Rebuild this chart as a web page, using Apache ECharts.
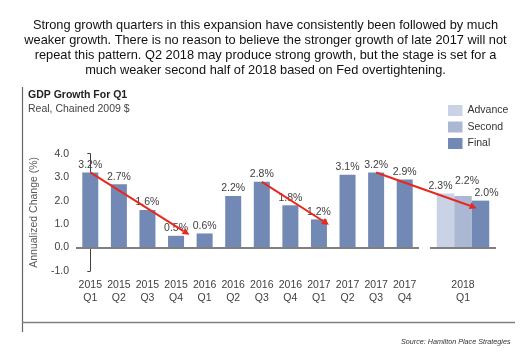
<!DOCTYPE html>
<html>
<head>
<meta charset="utf-8">
<script src="https://cdn.jsdelivr.net/npm/echarts@6/dist/echarts.min.js"></script>
<style>
html,body{margin:0;padding:0;background:#fff;}
#c{width:531px;height:355px;}
</style>
</head>
<body>
<div id="c"></div>
<script>
// ---- data ----
const categories = ['2015\nQ1','2015\nQ2','2015\nQ3','2015\nQ4','2016\nQ1','2016\nQ2','2016\nQ3','2016\nQ4','2017\nQ1','2017\nQ2','2017\nQ3','2017\nQ4'];
const finalValues = [3.2, 2.7, 1.6, 0.5, 0.6, 2.2, 2.8, 1.8, 1.2, 3.1, 3.2, 2.9];
const category2018 = ['2018\nQ1'];
const advance2018 = [2.3];
const second2018 = [2.2];
const final2018 = [2.0];
const legendNames = ['Advance', 'Second', 'Final'];
const yTicks = { min: -1, max: 4, interval: 1 };
const headline = 'Strong growth quarters in this expansion have consistently been followed by much\nweaker growth. There is no reason to believe the stronger growth of late 2017 will not\nrepeat this pattern. Q2 2018 may produce strong growth, but the stage is set for a\nmuch weaker second half of 2018 based on Fed overtightening.';
const chartTitle = 'GDP Growth For Q1';
const chartSubtitle = 'Real, Chained 2009 $';
const yAxisName = 'Annualized Change (%)';
const sourceText = 'Source: Hamilton Place Strategies';
// trend arrows in data units: [categoryIndex, value]; grid 1 uses a hidden value axis
const trendArrows = [
  { fromGrid: 0, from: [0, 3.2], toGrid: 0, to: [3.47, 0.54] },
  { fromGrid: 0, from: [6, 2.8], toGrid: 0, to: [8.35, 0.97] },
  { fromGrid: 0, from: [10, 3.2], toGrid: 1, to: [0.62, 1.68] }
];

// ---- style ----
const C_FINAL = '#7289b5';
const C_SECOND = '#aab8d4';
const C_ADV = '#cad3e5';
const C_TXT = '#404040';
const FONT = 'Liberation Sans, Arial, sans-serif';

const chart = echarts.init(document.getElementById('c'), null, { renderer: 'canvas' });

const labelFmt = p => p.value.toFixed(1) + '%';
const lbl = (extra) => Object.assign({
  show: true, position: 'top', distance: 2, formatter: labelFmt,
  color: C_TXT, fontFamily: FONT, fontSize: 10.5
}, extra || {});
const zeroLine = {
  silent: true, symbol: 'none', animation: false,
  label: { show: false },
  lineStyle: { color: '#808080', width: 2, type: 'solid' },
  data: [{ yAxis: 0 }]
};

const option = {
  animation: false,
  backgroundColor: '#fff',
  grid: [
    { left: 76, top: 153.7, width: 343, height: 117.3 },
    { left: 430, top: 153.7, width: 66, height: 117.3 }
  ],
  legend: {
    data: legendNames,
    orient: 'vertical',
    left: 443, top: 100,
    itemWidth: 14.5, itemHeight: 11, itemGap: 5.5,
    icon: 'rect',
    textStyle: { color: '#333', fontFamily: FONT, fontSize: 10.5, lineHeight: 11 }
  },
  xAxis: [
    {
      type: 'category', gridIndex: 0, data: categories,
      axisLine: { show: false }, axisTick: { show: false },
      axisLabel: { color: C_TXT, fontFamily: FONT, fontSize: 10.5, lineHeight: 13, margin: 8, interval: 0 }
    },
    {
      type: 'category', gridIndex: 1, data: category2018,
      axisLine: { show: false }, axisTick: { show: false },
      axisLabel: { color: C_TXT, fontFamily: FONT, fontSize: 10.5, lineHeight: 13, margin: 8 }
    },
    { type: 'value', gridIndex: 0, min: -0.5, max: 11.5, show: false },
    { type: 'value', gridIndex: 1, min: -1.5, max: 1.5, show: false }
  ],
  yAxis: [
    {
      type: 'value', gridIndex: 0, min: yTicks.min, max: yTicks.max, interval: yTicks.interval,
      name: yAxisName, nameLocation: 'middle', nameGap: 32,
      nameTextStyle: { color: '#595959', fontFamily: FONT, fontSize: 10.5 },
      axisLine: { show: true, lineStyle: { color: '#404040', width: 1 } },
      axisTick: { show: true, length: 3, lineStyle: { color: '#404040' } },
      axisLabel: { color: C_TXT, fontFamily: FONT, fontSize: 10.5, margin: 7, formatter: v => v.toFixed(1) },
      splitLine: { show: false }
    },
    {
      type: 'value', gridIndex: 1, min: yTicks.min, max: yTicks.max, interval: yTicks.interval,
      show: false, splitLine: { show: false }
    }
  ],
  series: [
    {
      name: 'Final', type: 'bar', xAxisIndex: 0, yAxisIndex: 0, data: finalValues,
      barWidth: 16, itemStyle: { color: C_FINAL }, label: lbl(), markLine: zeroLine
    },
    {
      name: 'Advance', type: 'bar', xAxisIndex: 1, yAxisIndex: 1, data: advance2018,
      barWidth: 17.5, barGap: '0%', itemStyle: { color: C_ADV },
      label: lbl({ offset: [-5, 0] }), markLine: zeroLine
    },
    {
      name: 'Second', type: 'bar', xAxisIndex: 1, yAxisIndex: 1, data: second2018,
      barWidth: 17.5, barGap: '0%', itemStyle: { color: C_SECOND },
      label: lbl({ offset: [4, -7] })
    },
    {
      name: 'Final', type: 'bar', xAxisIndex: 1, yAxisIndex: 1, data: final2018,
      barWidth: 17.5, barGap: '0%', itemStyle: { color: C_FINAL },
      label: lbl({ offset: [6, 0] })
    }
  ]
};
chart.setOption(option);

// ---- annotations computed through the chart's own scales ----
function toPx(gridIdx, pt) {
  return chart.convertToPixel({ xAxisIndex: gridIdx === 0 ? 2 : 3, yAxisIndex: gridIdx }, pt);
}
const graphics = [];
trendArrows.forEach((a, i) => {
  const p0 = toPx(a.fromGrid, a.from);
  const p1 = toPx(a.toGrid, a.to);
  const dx = p1[0] - p0[0], dy = p1[1] - p0[1];
  const len = Math.sqrt(dx * dx + dy * dy);
  const ux = dx / len, uy = dy / len;
  const hl = 7, hw = 3.5;
  const bx = p1[0] - ux * hl, by = p1[1] - uy * hl;
  graphics.push({
    type: 'line', z: 100,
    shape: { x1: p0[0], y1: p0[1], x2: bx, y2: by },
    style: { stroke: '#e8281e', lineWidth: 2 }
  });
  graphics.push({
    type: 'polygon', z: 100,
    shape: { points: [[p1[0], p1[1]], [bx - uy * hw, by + ux * hw], [bx + uy * hw, by - ux * hw]] },
    style: { fill: '#e8281e' }
  });
});
// frame
graphics.push({ type: 'line', shape: { x1: 22.5, y1: 87, x2: 22.5, y2: 332 }, style: { stroke: '#666', lineWidth: 1.2 } });
graphics.push({ type: 'line', shape: { x1: 22, y1: 322.5, x2: 515, y2: 322.5 }, style: { stroke: '#7f7f7f', lineWidth: 1.5 } });
// texts
graphics.push({
  type: 'text', x: 265.5, y: 17.5,
  style: { text: headline, font: '12.8px ' + FONT, fill: '#111', textAlign: 'center', textVerticalAlign: 'top', lineHeight: 15.2 }
});
graphics.push({
  type: 'text', x: 28, y: 90,
  style: { text: chartTitle, font: 'bold 10.5px ' + FONT, fill: '#222', textAlign: 'left', textVerticalAlign: 'top' }
});
graphics.push({
  type: 'text', x: 28, y: 103.5,
  style: { text: chartSubtitle, font: '10.5px ' + FONT, fill: '#444', textAlign: 'left', textVerticalAlign: 'top' }
});
graphics.push({
  type: 'text', x: 510.5, y: 342,
  style: { text: sourceText, font: 'italic 7.2px ' + FONT, fill: '#333', textAlign: 'right', textVerticalAlign: 'middle' }
});
chart.setOption({ graphic: graphics });
</script>
</body>
</html>
